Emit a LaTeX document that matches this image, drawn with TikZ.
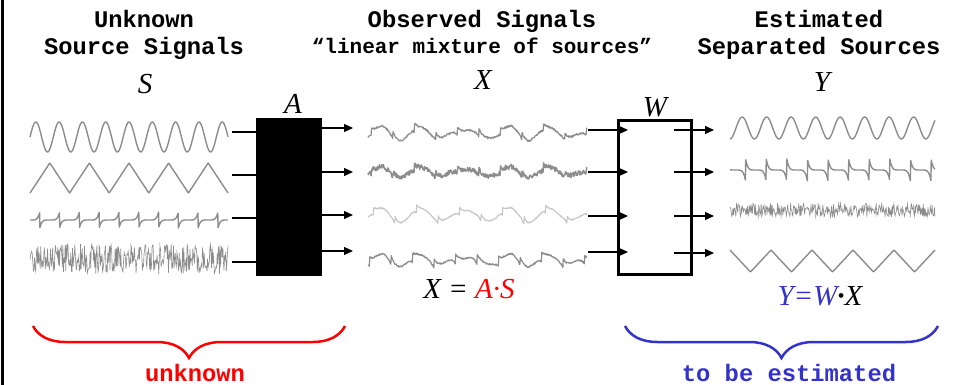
\documentclass[tikz,border=0pt]{standalone}
\usepackage{fontspec}
\setmainfont{Liberation Serif}
\setmonofont{Liberation Mono}
\usetikzlibrary{arrows.meta,decorations.pathreplacing}
\definecolor{estblue}{RGB}{51,51,204}
\definecolor{wavegray}{RGB}{140,140,140}
\tikzset{
  title/.style={font=\ttfamily\bfseries\fontsize{23.8}{27}\selectfont, anchor=base, inner sep=0pt},
  letter/.style={font=\itshape\fontsize{29}{31}\selectfont, inner sep=0pt},
  wave/.style={wavegray, line width=1.4pt, line join=round},
  noise/.style={wavegray, line width=0.6pt},
  flow/.style={-{Triangle[length=9pt,width=8pt]}, line width=1.3pt},
  groupbrace/.style={decorate, decoration={brace, mirror, amplitude=32pt}, line width=2.5pt},
  declare function={
    sinw(\t,\T)=sin(360*(\t/\T));
    triw(\t,\T)=2*abs(2*mod(\t/\T,1)-1)-1;
    sawu(\t,\T)=2*mod(\t/\T,1)-1;
    spkw(\t,\T)=sawu(\t,\T)*sawu(\t,\T)*sawu(\t,\T)*sawu(\t,\T)*sawu(\t,\T);
  }
}
\begin{document}
\begin{tikzpicture}[x=1pt, y=-1pt]
    \useasboundingbox (0,0) rectangle (954,385);
    \pgfmathsetseed{11}

    \draw[line width=3pt] (2,0) -- (2,385);

    \node[title] (srcTop) at (144,28) {Unknown};
    \node[title] (srcBot) at (144,55) {Source Signals};
    \node[title] (obsTop) at (482,28) {Observed Signals};
    \node[title, font=\ttfamily\bfseries\fontsize{21}{24}\selectfont] (obsBot) at (482,54) {“linear mixture of sources”};
    \node[title] (estTop) at (819,28) {Estimated};
    \node[title] (estBot) at (819,55) {Separated Sources};

    \node[letter] (S) at (145,84) {S};
    \node[letter] (X) at (483,80) {X};
    \node[letter] (Y) at (822,82) {Y};
    \node[letter] (Alabel) at (293,104) {A};
    \node[letter] (Wlabel) at (655,107) {W};

    \draw[wave] plot[domain=30:228, samples=220] (\x, {137-15*sinw(\x-30,23.3)});
    \draw[wave] plot[domain=30:228, samples=400] (\x, {178+15*triw(\x-30,39.6)});
    \draw[wave] plot[domain=30:228, samples=600] (\x, {220-8*spkw(\x-20,19.8)});
    \draw[noise] plot[domain=30:228, samples=350] (\x, {259+15*rand});

    \draw[wave, line width=1.2pt] plot[domain=368:587, samples=500] (\x, {133-5*sinw(\x-368,43)+3*triw(\x-368,32)+4*spkw(\x-350,21.5)+1*rand});
    \draw[wave, line width=1.4pt] plot[domain=368:587, samples=500] (\x, {172-4*sinw(\x-368,43)+2*triw(\x-368,32)+3*spkw(\x-350,21.5)+2.5*rand});
    \draw[wave, gray!45, line width=1.1pt] plot[domain=368:587, samples=500] (\x, {215-6*sinw(\x-368,43)+2*triw(\x-368,32)+4*spkw(\x-352,21.5)+0.6*rand});
    \draw[wave, line width=1.2pt] plot[domain=368:587, samples=500] (\x, {260-4*sinw(\x-368,43)+3*triw(\x-368,32)+5*spkw(\x-348,21.5)+0.8*rand});

    \draw[wave] plot[domain=730:935, samples=220] (\x, {128-11*sinw(\x-736,24.5)});
    \draw[wave] plot[domain=730:935, samples=600] (\x, {170+11*spkw(\x-725,20.6)});
    \draw[noise] plot[domain=730:935, samples=350] (\x, {210+7*rand});
    \draw[wave] plot[domain=730:935, samples=400] (\x, {261-11*triw(\x-730,41)});

    \node[fill=black, minimum width=66pt, minimum height=158pt, inner sep=0pt] (A) at (289,197) {};
    \node[draw, line width=3pt, minimum width=73pt, minimum height=154pt, inner sep=0pt] (W) at (655,197.5) {};

    \coordinate (s1) at (232,132); \coordinate (s2) at (232,175); \coordinate (s3) at (232,218); \coordinate (s4) at (232,262);
    \coordinate (a1) at (272,132); \coordinate (a2) at (272,175); \coordinate (a3) at (272,218); \coordinate (a4) at (272,262);
    \coordinate (ao1) at (322,128); \coordinate (ao2) at (322,172); \coordinate (ao3) at (322,215); \coordinate (ao4) at (322,251);
    \coordinate (x1) at (353,128); \coordinate (x2) at (353,172); \coordinate (x3) at (353,215); \coordinate (x4) at (353,251);
    \coordinate (xo1) at (588,130); \coordinate (xo2) at (588,172); \coordinate (xo3) at (588,216); \coordinate (xo4) at (588,252);
    \coordinate (w1) at (628,130); \coordinate (w2) at (628,172); \coordinate (w3) at (628,216); \coordinate (w4) at (628,252);
    \coordinate (wo1) at (674,130); \coordinate (wo2) at (674,172); \coordinate (wo3) at (674,216); \coordinate (wo4) at (674,253);
    \coordinate (y1) at (714,130); \coordinate (y2) at (714,172); \coordinate (y3) at (714,216); \coordinate (y4) at (714,253);

    \draw[flow] (s1) -- (a1); \draw[flow] (s2) -- (a2); \draw[flow] (s3) -- (a3); \draw[flow] (s4) -- (a4);
    \draw[flow] (ao1) -- (x1); \draw[flow] (ao2) -- (x2); \draw[flow] (ao3) -- (x3); \draw[flow] (ao4) -- (x4);
    \draw[flow] (xo1) -- (w1); \draw[flow] (xo2) -- (w2); \draw[flow] (xo3) -- (w3); \draw[flow] (xo4) -- (w4);
    \draw[flow] (wo1) -- (y1); \draw[flow] (wo2) -- (y2); \draw[flow] (wo3) -- (y3); \draw[flow] (wo4) -- (y4);

    \node[letter] (mixEq) at (469,289) {X = \textcolor{red}{A·S}};
    \node[letter] (sepEq) at (820,296) {\textcolor{estblue}{Y=W}\textbf{·}X};

    \draw[groupbrace, red] (33,326) -- (345,326);
    \draw[groupbrace, estblue] (625,326) -- (938,326);

    \node[title, red] (unknownLbl) at (195,381) {unknown};
    \node[title, estblue] (estimLbl) at (789,381) {to be estimated};
\end{tikzpicture}
\end{document}
